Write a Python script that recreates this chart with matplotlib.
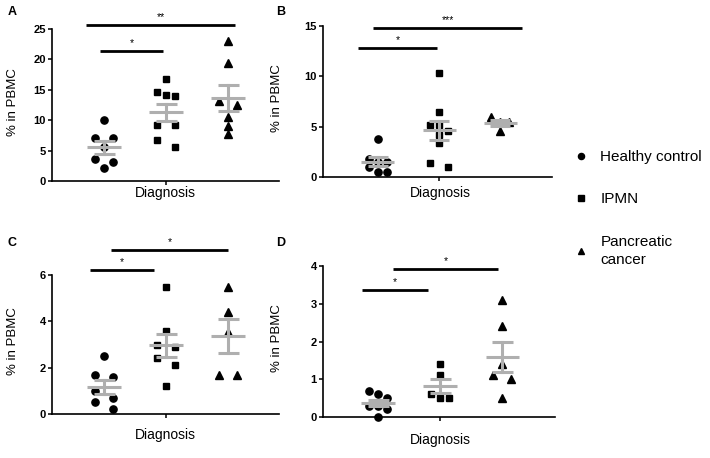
import numpy as np
import matplotlib
matplotlib.use('Agg')
import matplotlib.pyplot as plt
from matplotlib.lines import Line2D

plt.rcParams['font.family'] = ['Liberation Sans', 'DejaVu Sans']

groups = ['Healthy control', 'IPMN', 'Pancreatic\ncancer']
markers = ['o', 's', '^']
msizes = [5.2, 4.7, 5.2]

# % in PBMC, per panel, per group
hc_a = [10.1, 7.0, 7.0, 5.6, 3.7, 3.1, 2.1]
ipmn_a = [16.8, 14.7, 14.1, 13.9, 9.2, 9.2, 6.7, 5.6]
pc_a = [23.1, 19.4, 13.2, 12.5, 10.6, 9.1, 7.7]

hc_b = [3.8, 1.8, 1.5, 1.5, 1.0, 0.5, 0.5]
ipmn_b = [10.35, 6.5, 5.2, 5.15, 4.6, 4.2, 3.4, 1.4, 1.0]
pc_b = [6.0, 5.5, 5.45, 4.6]

hc_c = [2.5, 1.7, 1.6, 1.0, 0.7, 0.5, 0.2]
ipmn_c = [5.5, 3.6, 3.0, 2.9, 2.4, 2.1, 1.2]
pc_c = [5.5, 4.4, 3.55, 1.7, 1.7]

hc_d = [0.7, 0.6, 0.5, 0.3, 0.3, 0.2, 0.0]
ipmn_d = [1.4, 1.1, 0.6, 0.5, 0.5]
pc_d = [3.1, 2.4, 1.4, 1.1, 1.0, 0.5]

# significance bars: (x start, x end, height, stars)
sig_a = [(0.93, 1.95, 21.4, '*'), (0.71, 3.11, 25.7, '**')]
sig_b = [(0.67, 1.97, 12.85, '*'), (0.92, 3.36, 14.85, '***')]
sig_c = [(0.77, 1.81, 6.21, '*'), (1.11, 3.0, 7.1, '*')]
sig_d = [(0.74, 1.80, 3.36, '*'), (1.24, 2.93, 3.93, '*')]

yticks_a = [0, 5, 10, 15, 20, 25]
yticks_b = [0, 5, 10, 15]
yticks_c = [0, 2, 4, 6]
yticks_d = [0, 1, 2, 3, 4]

W, H = 710, 458
fig = plt.figure(figsize=(W / 100, H / 100), dpi=100)

panels = [
    ('A', [hc_a, ipmn_a, pc_a], sig_a, yticks_a, (52, 181, 279, 29), (0.16, 3.82)),
    ('B', [hc_b, ipmn_b, pc_b], sig_b, yticks_b, (323, 177, 552, 26), (0.10, 3.85)),
    ('C', [hc_c, ipmn_c, pc_c], sig_c, yticks_c, (52, 414, 279, 275), (0.16, 3.82)),
    ('D', [hc_d, ipmn_d, pc_d], sig_d, yticks_d, (323, 417, 555, 266), (0.11, 3.85)),
]
xlab_y = {'A': 193, 'B': 193, 'C': 435, 'D': 440}
gray = '#afafaf'


def swarm(vals, px_per_y, px_per_x, d_px=9.0, thr_px=8.0):
    # group points that sit close in y and spread them sideways
    vals = np.asarray(vals, float)
    order = np.argsort(-vals, kind='stable')
    off = np.zeros(len(vals))
    grp = []
    for i in list(order) + [None]:
        if i is not None and grp and (vals[grp[0]] - vals[i]) * px_per_y < thr_px:
            grp.append(i)
            continue
        if grp:
            n = len(grp)
            if n % 2:
                pos = [k - (n - 1) / 2 for k in range(n)]
            else:
                half = [k + 1 for k in range(n // 2)]
                pos = [-h for h in half[::-1]] + half
            for j, p in zip(grp, pos):
                off[j] = p * d_px / px_per_x
        grp = [i] if i is not None else []
    return off


for letter, data, sigs, yt, (x0, y0, x1, y1), xl in panels:
    ax = fig.add_axes([x0 / W, 1 - y0 / H, (x1 - x0) / W, (y0 - y1) / H])
    ax.set_xlim(*xl)
    ax.set_ylim(0, yt[-1])
    px_per_y = (y0 - y1) / yt[-1]
    px_per_x = (x1 - x0) / (xl[1] - xl[0])
    for k, vals in enumerate(data):
        xc = k + 1
        off = swarm(vals, px_per_y, px_per_x)
        ax.plot(xc + off, vals, linestyle='none', marker=markers[k], ms=msizes[k],
                color='black', clip_on=False, zorder=2)
        v = np.asarray(vals)
        m = v.mean()
        sem = v.std(ddof=1) / np.sqrt(len(v))
        ax.plot([xc - 0.27, xc + 0.27], [m, m], color=gray, lw=2.2, zorder=3,
                solid_capstyle='butt')
        ax.plot([xc, xc], [m - sem, m + sem], color=gray, lw=2.2, zorder=3)
        for yy in (m - sem, m + sem):
            ax.plot([xc - 0.17, xc + 0.17], [yy, yy], color=gray, lw=2.2, zorder=3,
                    solid_capstyle='butt')
    for (sx0, sx1, sy, lab) in sigs:
        ax.plot([sx0, sx1], [sy, sy], color='black', lw=2.0, clip_on=False,
                solid_capstyle='butt')
        ax.annotate(lab, ((sx0 + sx1) / 2, sy), xytext=(0, 2),
                    textcoords='offset points', ha='center', va='bottom',
                    fontsize=7.5, annotation_clip=False)
    for s in ('top', 'right'):
        ax.spines[s].set_visible(False)
    for s in ('left', 'bottom'):
        ax.spines[s].set_linewidth(1.2)
    ax.set_yticks(yt)
    ax.set_yticklabels([str(t) for t in yt], fontsize=8, fontweight='bold')
    ax.set_xticks([2])
    ax.set_xticklabels([''])
    ax.tick_params(length=3, width=1.1, pad=1.5)
    ax.patch.set_alpha(0)

    fig.text((x0 + x1) / 2 / W if letter in 'AC' else 440 / W, 1 - xlab_y[letter] / H,
             'Diagnosis', ha='center', va='center', fontsize=10)
    lx = 13 if letter in 'AC' else 277
    fig.text(lx / W, 1 - ((y0 + y1) / 2 - 3) / H, '% in PBMC', rotation=90,
             ha='center', va='center', fontsize=9.5)
    fx = 12 if letter in 'AC' else 281
    fy = 12 if letter in 'AB' else 243
    fig.text(fx / W, 1 - fy / H, letter, ha='center', va='center',
             fontsize=9, fontweight='bold')

handles = [Line2D([], [], linestyle='none', marker=mk, ms=ms * 0.85, color='black')
           for mk, ms in zip(markers, msizes)]
leg = fig.legend(handles, groups, loc='upper left', bbox_to_anchor=(573 / W, 1 - 150 / H),
                 frameon=False, fontsize=11, handlelength=1.0, handletextpad=0.8,
                 labelspacing=1.85, borderpad=0, borderaxespad=0)
for t in leg.get_texts():
    t.set_linespacing(1.4)

fig.savefig('out.png', dpi=100)
